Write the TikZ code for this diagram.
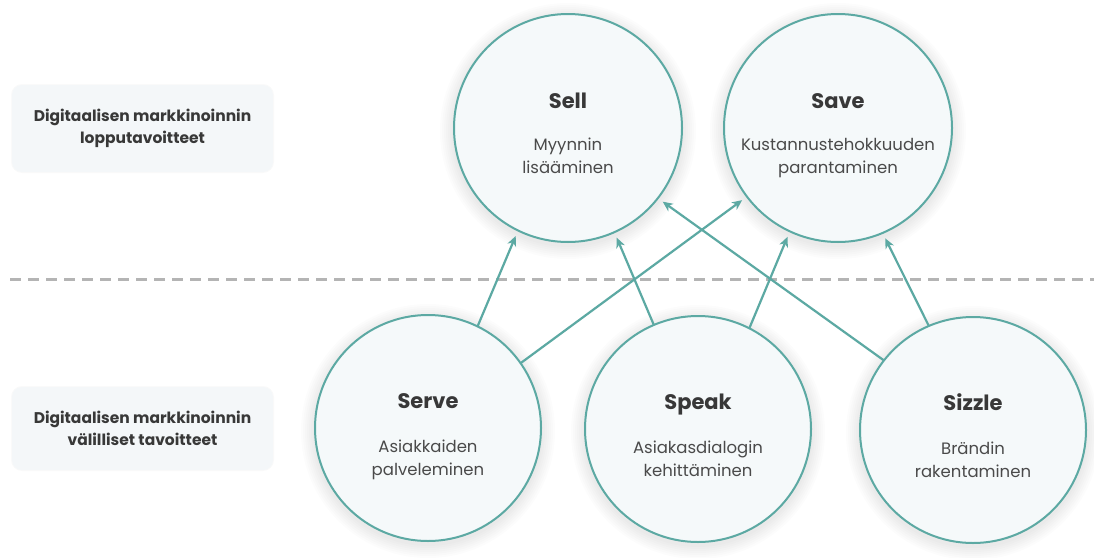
\documentclass[tikz,border=0pt]{standalone}
\usepackage{fontspec}
\setmainfont{Poppins}
\usetikzlibrary{arrows.meta}

\definecolor{ringteal}{HTML}{5CA9A3}
\definecolor{ringfill}{HTML}{F5F9FA}
\definecolor{bandfill}{HTML}{F4F7F9}
\definecolor{titlegray}{HTML}{383838}
\definecolor{subgray}{HTML}{4A4A4A}
\definecolor{divgray}{HTML}{B4B4B4}

\begin{document}
\begin{tikzpicture}[x=1pt,y=-1pt,
  % one faint ring of the soft shadow; stacked rings fade outwards
  halo/.style={preaction={draw=black, draw opacity=0.013, fill=none,
    line width=#1, transform canvas={yshift=-3pt}}},
  softshadow/.style={halo=4pt, halo=8pt, halo=12pt, halo=16pt,
    halo=20pt, halo=24pt, halo=28pt},
  goal/.style={circle, draw=ringteal, line width=2pt, fill=ringfill,
    minimum size=#1, inner sep=0pt, outer sep=0pt, softshadow},
  goal/.default=228pt,
  goaltitle/.style={anchor=base, inner sep=0pt, text=titlegray,
    font=\fontsize{21}{25}\selectfont\bfseries},
  goalsub/.style={anchor=base, inner sep=0pt, text=subgray,
    font=\fontsize{16.5}{23}\selectfont},
  band/.style={rectangle, rounded corners=10pt, fill=bandfill,
    minimum width=261pt, align=center, text=titlegray,
    font=\fontsize{15.5}{22}\selectfont\bfseries,
    preaction={draw=black, draw opacity=0.02, line width=2pt}},
  link/.style={draw=ringteal, line width=2.2pt,
    -{Stealth[length=10pt,width=9pt,inset=3pt]}, shorten >=6pt},
  divider/.style={draw=divgray, line width=3pt, dash pattern=on 11pt off 7pt}
]
\useasboundingbox[fill=white] (0,0) rectangle (1094,557);

% side labels of the two levels
\node[band, minimum height=87pt] (upper-label) at (142.5,128.5)
  {Digitaalisen markkinoinnin\\lopputavoitteet};
\node[band, minimum height=83pt] (lower-label) at (142.5,428.5)
  {Digitaalisen markkinoinnin\\välilliset tavoitteet};

% end goals
\node[goal] (sell) at (568,128) {};
\node[goal] (save) at (838,128) {};
% intermediate goals
\node[goal=226pt] (serve)  at (428,428) {};
\node[goal=226pt] (speak)  at (698,429) {};
\node[goal=226pt] (sizzle) at (973,430) {};

% circle texts
\node[goaltitle] (sell-t) at ([yshift=20pt]sell.center) {Sell};
\node[goalsub] (sell-a) at ([yshift=-22pt]sell.center) {Myynnin};
\node[goalsub] (sell-b) at ([yshift=-45pt]sell.center) {lisääminen};

\node[goaltitle] (save-t) at ([yshift=20pt]save.center) {Save};
\node[goalsub] (save-a) at ([yshift=-22pt]save.center) {Kustannustehokkuuden};
\node[goalsub] (save-b) at ([yshift=-45pt]save.center) {parantaminen};

\node[goaltitle] (serve-t) at ([yshift=20pt]serve.center) {Serve};
\node[goalsub] (serve-a) at ([yshift=-24pt]serve.center) {Asiakkaiden};
\node[goalsub] (serve-b) at ([yshift=-47pt]serve.center) {palveleminen};

\node[goaltitle] (speak-t) at ([yshift=20pt]speak.center) {Speak};
\node[goalsub] (speak-a) at ([yshift=-24pt]speak.center) {Asiakasdialogin};
\node[goalsub] (speak-b) at ([yshift=-47pt]speak.center) {kehittäminen};

\node[goaltitle] (sizzle-t) at ([yshift=20pt]sizzle.center) {Sizzle};
\node[goalsub] (sizzle-a) at ([yshift=-24pt]sizzle.center) {Brändin};
\node[goalsub] (sizzle-b) at ([yshift=-47pt]sizzle.center) {rakentaminen};

% divider between the two levels
\coordinate (div-l) at (10,279);
\coordinate (div-r) at (1094,279);
\draw[divider] (div-l) -- (div-r);

% contributions of the intermediate goals
\draw[link] (serve.64.6)   -- (sell.244.6);
\draw[link] (speak.113)    -- (sell.294);
\draw[link] (serve.35)     -- (save.217);
\draw[link] (sizzle.142.4) -- (sell.322.5);
\draw[link] (speak.63.7)   -- (save.245.6);
\draw[link] (sizzle.113.3) -- (save.293.8);
\end{tikzpicture}
\end{document}
